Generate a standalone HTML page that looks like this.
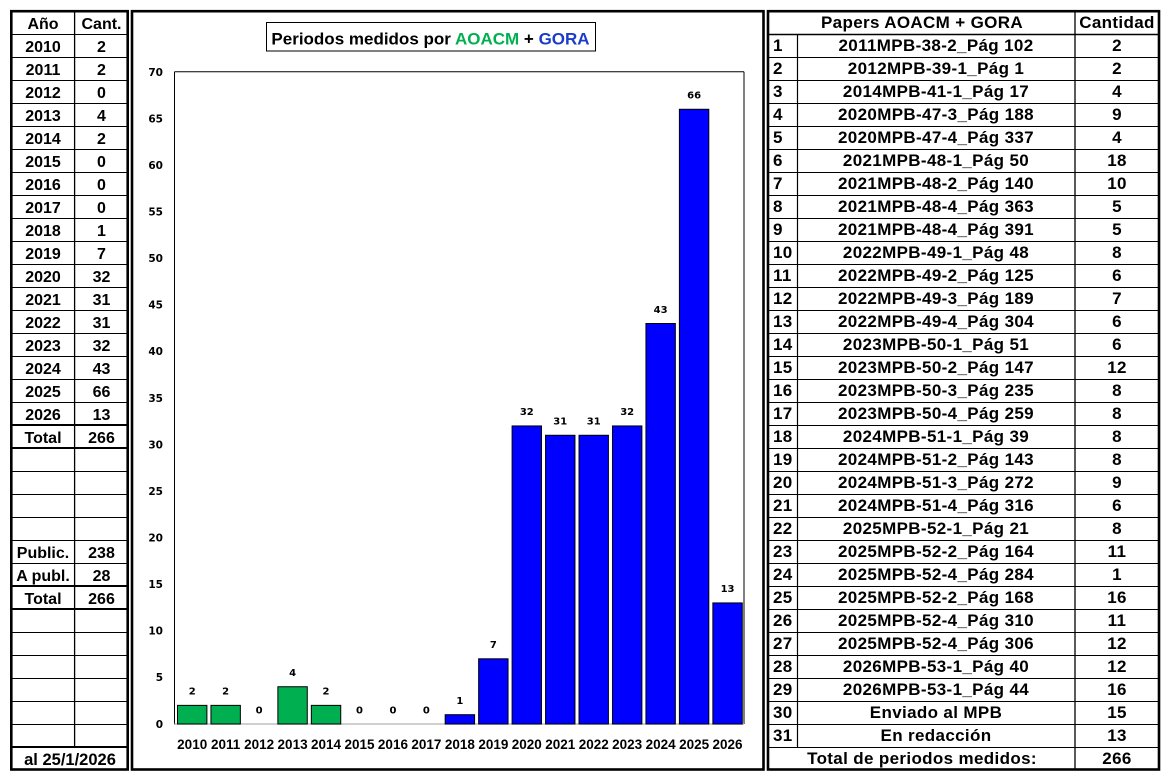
<!DOCTYPE html>
<html><head><meta charset="utf-8"><style>
html,body{margin:0;padding:0;background:#fff;}
svg{display:block;}
.lt{font-family:"Liberation Sans",sans-serif;font-weight:bold;font-size:16px;fill:#000;text-anchor:middle;}
.rt{font-family:"Liberation Sans",sans-serif;font-weight:bold;font-size:17px;letter-spacing:0.35px;fill:#000;text-anchor:middle;}
.rn{font-family:"Liberation Sans",sans-serif;font-weight:bold;font-size:17px;letter-spacing:0.35px;fill:#000;text-anchor:start;}
.yl{font-family:"DejaVu Sans",sans-serif;font-weight:bold;font-size:10.5px;fill:#000;text-anchor:end;}
.vl{font-family:"DejaVu Sans",sans-serif;font-weight:bold;font-size:10px;fill:#000;text-anchor:middle;}
.xl{font-family:"Liberation Sans",sans-serif;font-weight:bold;font-size:13.5px;fill:#000;text-anchor:middle;}
.ti{font-family:"Liberation Sans",sans-serif;font-weight:bold;font-size:17px;fill:#000;text-anchor:middle;}
</style></head><body>
<svg width="1171" height="782" viewBox="0 0 1171 782" xmlns="http://www.w3.org/2000/svg">
<rect x="0" y="0" width="1171" height="782" fill="#fff"/>

<!-- LEFT TABLE -->
<g stroke="#000" stroke-width="1" fill="none">
<line x1="12" y1="34.5" x2="127" y2="34.5"/>
<line x1="12" y1="57.5" x2="127" y2="57.5"/>
<line x1="12" y1="80.5" x2="127" y2="80.5"/>
<line x1="12" y1="103.5" x2="127" y2="103.5"/>
<line x1="12" y1="126.5" x2="127" y2="126.5"/>
<line x1="12" y1="149.5" x2="127" y2="149.5"/>
<line x1="12" y1="172.5" x2="127" y2="172.5"/>
<line x1="12" y1="195.5" x2="127" y2="195.5"/>
<line x1="12" y1="218.5" x2="127" y2="218.5"/>
<line x1="12" y1="241.5" x2="127" y2="241.5"/>
<line x1="12" y1="264.5" x2="127" y2="264.5"/>
<line x1="12" y1="287.5" x2="127" y2="287.5"/>
<line x1="12" y1="310.5" x2="127" y2="310.5"/>
<line x1="12" y1="333.5" x2="127" y2="333.5"/>
<line x1="12" y1="356.5" x2="127" y2="356.5"/>
<line x1="12" y1="379.5" x2="127" y2="379.5"/>
<line x1="12" y1="402.5" x2="127" y2="402.5"/>
<line x1="12" y1="471.5" x2="127" y2="471.5"/>
<line x1="12" y1="494.5" x2="127" y2="494.5"/>
<line x1="12" y1="517.5" x2="127" y2="517.5"/>
<line x1="12" y1="540.5" x2="127" y2="540.5"/>
<line x1="12" y1="563.5" x2="127" y2="563.5"/>
<line x1="12" y1="632.5" x2="127" y2="632.5"/>
<line x1="12" y1="655.5" x2="127" y2="655.5"/>
<line x1="12" y1="678.5" x2="127" y2="678.5"/>
<line x1="12" y1="701.5" x2="127" y2="701.5"/>
<line x1="12" y1="724.5" x2="127" y2="724.5"/>
<line x1="74.6" y1="12" x2="74.6" y2="747" stroke-width="1.3"/>
</g>
<g stroke="#000" stroke-width="2" fill="none">
<line x1="12" y1="425" x2="127" y2="425"/>
<line x1="12" y1="448" x2="127" y2="448"/>
<line x1="12" y1="586" x2="127" y2="586"/>
<line x1="12" y1="609" x2="127" y2="609"/>
<line x1="12" y1="747" x2="127" y2="747"/>
</g>
<rect x="11.3" y="11.2" width="116.4" height="758.3" fill="none" stroke="#000" stroke-width="2.6"/>

<g>
<text class="lt" x="43" y="29">Año</text><text class="lt" x="101.5" y="29">Cant.</text>
<text class="lt" x="43" y="52">2010</text><text class="lt" x="101.5" y="52">2</text>
<text class="lt" x="43" y="75">2011</text><text class="lt" x="101.5" y="75">2</text>
<text class="lt" x="43" y="98">2012</text><text class="lt" x="101.5" y="98">0</text>
<text class="lt" x="43" y="121">2013</text><text class="lt" x="101.5" y="121">4</text>
<text class="lt" x="43" y="144">2014</text><text class="lt" x="101.5" y="144">2</text>
<text class="lt" x="43" y="167">2015</text><text class="lt" x="101.5" y="167">0</text>
<text class="lt" x="43" y="190">2016</text><text class="lt" x="101.5" y="190">0</text>
<text class="lt" x="43" y="213">2017</text><text class="lt" x="101.5" y="213">0</text>
<text class="lt" x="43" y="236">2018</text><text class="lt" x="101.5" y="236">1</text>
<text class="lt" x="43" y="259">2019</text><text class="lt" x="101.5" y="259">7</text>
<text class="lt" x="43" y="282">2020</text><text class="lt" x="101.5" y="282">32</text>
<text class="lt" x="43" y="305">2021</text><text class="lt" x="101.5" y="305">31</text>
<text class="lt" x="43" y="328">2022</text><text class="lt" x="101.5" y="328">31</text>
<text class="lt" x="43" y="351">2023</text><text class="lt" x="101.5" y="351">32</text>
<text class="lt" x="43" y="374">2024</text><text class="lt" x="101.5" y="374">43</text>
<text class="lt" x="43" y="397">2025</text><text class="lt" x="101.5" y="397">66</text>
<text class="lt" x="43" y="420">2026</text><text class="lt" x="101.5" y="420">13</text>
<text class="lt" x="43" y="443">Total</text><text class="lt" x="101.5" y="443">266</text>
<text class="lt" x="43" y="558">Public.</text><text class="lt" x="101.5" y="558">238</text>
<text class="lt" x="43" y="581">A publ.</text><text class="lt" x="101.5" y="581">28</text>
<text class="lt" x="43" y="604">Total</text><text class="lt" x="101.5" y="604">266</text>
<text class="lt" x="70" y="765" style="font-size:16.5px">al 25/1/2026</text>
</g>

<!-- CHART PANEL -->
<rect x="132" y="11.2" width="631.5" height="758.3" fill="none" stroke="#000" stroke-width="2.6"/>
<rect x="266.5" y="22.5" width="329" height="28.5" fill="#fff" stroke="#000" stroke-width="1"/>
<text class="ti" x="430.5" y="44.3">Periodos medidos por <tspan fill="#00B050">AOACM</tspan> + <tspan fill="#1A3CC8">GORA</tspan></text>

<!-- plot area -->
<g fill="none" stroke="#000" stroke-width="1">
<line x1="174.5" y1="71.7" x2="744" y2="71.7"/>
<line x1="744" y1="71.7" x2="744" y2="724"/>
<line x1="174.5" y1="71.7" x2="174.5" y2="724.5"/>
</g>
<line x1="174.5" y1="724" x2="744" y2="724" stroke="#BFBFBF" stroke-width="1.5"/>

<g>
<text class="yl" x="163" y="75.8">70</text>
<text class="yl" x="163" y="122.4">65</text>
<text class="yl" x="163" y="169">60</text>
<text class="yl" x="163" y="215.5">55</text>
<text class="yl" x="163" y="262.1">50</text>
<text class="yl" x="163" y="308.7">45</text>
<text class="yl" x="163" y="355.2">40</text>
<text class="yl" x="163" y="401.8">35</text>
<text class="yl" x="163" y="448.4">30</text>
<text class="yl" x="163" y="495">25</text>
<text class="yl" x="163" y="541.5">20</text>
<text class="yl" x="163" y="588.1">15</text>
<text class="yl" x="163" y="634.7">10</text>
<text class="yl" x="163" y="681.2">5</text>
<text class="yl" x="163" y="727.8">0</text>
</g>

<g stroke="#000" stroke-width="1">
<rect x="177.5" y="705.37" width="29.4" height="18.63" fill="#00B050"/>
<rect x="210.96" y="705.37" width="29.4" height="18.63" fill="#00B050"/>
<rect x="277.88" y="686.74" width="29.4" height="37.26" fill="#00B050"/>
<rect x="311.34" y="705.37" width="29.4" height="18.63" fill="#00B050"/>
<rect x="445.18" y="714.69" width="29.4" height="9.31" fill="#0000FF"/>
<rect x="478.64" y="658.8" width="29.4" height="65.2" fill="#0000FF"/>
<rect x="512.1" y="425.95" width="29.4" height="298.05" fill="#0000FF"/>
<rect x="545.56" y="435.27" width="29.4" height="288.73" fill="#0000FF"/>
<rect x="579.02" y="435.27" width="29.4" height="288.73" fill="#0000FF"/>
<rect x="612.48" y="425.95" width="29.4" height="298.05" fill="#0000FF"/>
<rect x="645.94" y="323.5" width="29.4" height="400.5" fill="#0000FF"/>
<rect x="679.4" y="109.28" width="29.4" height="614.72" fill="#0000FF"/>
<rect x="712.86" y="602.92" width="29.4" height="121.08" fill="#0000FF"/>
</g>

<g>
<text class="vl" x="192.2" y="694.7">2</text>
<text class="vl" x="225.66" y="694.7">2</text>
<text class="vl" x="259.12" y="713.3">0</text>
<text class="vl" x="292.58" y="676">4</text>
<text class="vl" x="326.04" y="694.7">2</text>
<text class="vl" x="359.5" y="713.3">0</text>
<text class="vl" x="392.96" y="713.3">0</text>
<text class="vl" x="426.42" y="713.3">0</text>
<text class="vl" x="459.88" y="704">1</text>
<text class="vl" x="493.34" y="648.1">7</text>
<text class="vl" x="526.8" y="415.2">32</text>
<text class="vl" x="560.26" y="424.6">31</text>
<text class="vl" x="593.72" y="424.6">31</text>
<text class="vl" x="627.18" y="415.2">32</text>
<text class="vl" x="660.64" y="312.8">43</text>
<text class="vl" x="694.1" y="98.6">66</text>
<text class="vl" x="727.56" y="592.2">13</text>
</g>

<g>
<text class="xl" x="192.2" y="748.8">2010</text>
<text class="xl" x="225.66" y="748.8">2011</text>
<text class="xl" x="259.12" y="748.8">2012</text>
<text class="xl" x="292.58" y="748.8">2013</text>
<text class="xl" x="326.04" y="748.8">2014</text>
<text class="xl" x="359.5" y="748.8">2015</text>
<text class="xl" x="392.96" y="748.8">2016</text>
<text class="xl" x="426.42" y="748.8">2017</text>
<text class="xl" x="459.88" y="748.8">2018</text>
<text class="xl" x="493.34" y="748.8">2019</text>
<text class="xl" x="526.8" y="748.8">2020</text>
<text class="xl" x="560.26" y="748.8">2021</text>
<text class="xl" x="593.72" y="748.8">2022</text>
<text class="xl" x="627.18" y="748.8">2023</text>
<text class="xl" x="660.64" y="748.8">2024</text>
<text class="xl" x="694.1" y="748.8">2025</text>
<text class="xl" x="727.56" y="748.8">2026</text>
</g>

<!-- RIGHT TABLE -->
<g stroke="#000" stroke-width="1" fill="none">
<line x1="769" y1="34.5" x2="1158" y2="34.5" stroke-width="1.4"/>
<line x1="769" y1="57.5" x2="1158" y2="57.5"/>
<line x1="769" y1="80.5" x2="1158" y2="80.5"/>
<line x1="769" y1="103.5" x2="1158" y2="103.5"/>
<line x1="769" y1="126.5" x2="1158" y2="126.5"/>
<line x1="769" y1="149.5" x2="1158" y2="149.5"/>
<line x1="769" y1="172.5" x2="1158" y2="172.5"/>
<line x1="769" y1="195.5" x2="1158" y2="195.5"/>
<line x1="769" y1="218.5" x2="1158" y2="218.5"/>
<line x1="769" y1="241.5" x2="1158" y2="241.5"/>
<line x1="769" y1="264.5" x2="1158" y2="264.5"/>
<line x1="769" y1="287.5" x2="1158" y2="287.5"/>
<line x1="769" y1="310.5" x2="1158" y2="310.5"/>
<line x1="769" y1="333.5" x2="1158" y2="333.5"/>
<line x1="769" y1="356.5" x2="1158" y2="356.5"/>
<line x1="769" y1="379.5" x2="1158" y2="379.5"/>
<line x1="769" y1="402.5" x2="1158" y2="402.5"/>
<line x1="769" y1="425.5" x2="1158" y2="425.5"/>
<line x1="769" y1="448.5" x2="1158" y2="448.5"/>
<line x1="769" y1="471.5" x2="1158" y2="471.5"/>
<line x1="769" y1="494.5" x2="1158" y2="494.5"/>
<line x1="769" y1="517.5" x2="1158" y2="517.5"/>
<line x1="769" y1="540.5" x2="1158" y2="540.5"/>
<line x1="769" y1="563.5" x2="1158" y2="563.5"/>
<line x1="769" y1="586.5" x2="1158" y2="586.5"/>
<line x1="769" y1="609.5" x2="1158" y2="609.5"/>
<line x1="769" y1="632.5" x2="1158" y2="632.5"/>
<line x1="769" y1="655.5" x2="1158" y2="655.5"/>
<line x1="769" y1="678.5" x2="1158" y2="678.5"/>
<line x1="769" y1="701.5" x2="1158" y2="701.5"/>
<line x1="769" y1="724.5" x2="1158" y2="724.5"/>
<line x1="769" y1="747.5" x2="1158" y2="747.5"/>
<line x1="797.5" y1="34" x2="797.5" y2="747.5" stroke-width="1.2"/>
<line x1="1075" y1="12" x2="1075" y2="769" stroke-width="1.3"/>
</g>
<rect x="768" y="11.2" width="391" height="758.3" fill="none" stroke="#000" stroke-width="2.6"/>

<g>
<text class="rt" x="922" y="28">Papers AOACM + GORA</text><text class="rt" x="1117" y="28">Cantidad</text>
<text class="rn" x="773" y="51">1</text><text class="rt" x="936" y="51">2011MPB-38-2_Pág 102</text><text class="rt" x="1117" y="51">2</text>
<text class="rn" x="773" y="74">2</text><text class="rt" x="936" y="74">2012MPB-39-1_Pág 1</text><text class="rt" x="1117" y="74">2</text>
<text class="rn" x="773" y="97">3</text><text class="rt" x="936" y="97">2014MPB-41-1_Pág 17</text><text class="rt" x="1117" y="97">4</text>
<text class="rn" x="773" y="120">4</text><text class="rt" x="936" y="120">2020MPB-47-3_Pág 188</text><text class="rt" x="1117" y="120">9</text>
<text class="rn" x="773" y="143">5</text><text class="rt" x="936" y="143">2020MPB-47-4_Pág 337</text><text class="rt" x="1117" y="143">4</text>
<text class="rn" x="773" y="166">6</text><text class="rt" x="936" y="166">2021MPB-48-1_Pág 50</text><text class="rt" x="1117" y="166">18</text>
<text class="rn" x="773" y="189">7</text><text class="rt" x="936" y="189">2021MPB-48-2_Pág 140</text><text class="rt" x="1117" y="189">10</text>
<text class="rn" x="773" y="212">8</text><text class="rt" x="936" y="212">2021MPB-48-4_Pág 363</text><text class="rt" x="1117" y="212">5</text>
<text class="rn" x="773" y="235">9</text><text class="rt" x="936" y="235">2021MPB-48-4_Pág 391</text><text class="rt" x="1117" y="235">5</text>
<text class="rn" x="773" y="258">10</text><text class="rt" x="936" y="258">2022MPB-49-1_Pág 48</text><text class="rt" x="1117" y="258">8</text>
<text class="rn" x="773" y="281">11</text><text class="rt" x="936" y="281">2022MPB-49-2_Pág 125</text><text class="rt" x="1117" y="281">6</text>
<text class="rn" x="773" y="304">12</text><text class="rt" x="936" y="304">2022MPB-49-3_Pág 189</text><text class="rt" x="1117" y="304">7</text>
<text class="rn" x="773" y="327">13</text><text class="rt" x="936" y="327">2022MPB-49-4_Pág 304</text><text class="rt" x="1117" y="327">6</text>
<text class="rn" x="773" y="350">14</text><text class="rt" x="936" y="350">2023MPB-50-1_Pág 51</text><text class="rt" x="1117" y="350">6</text>
<text class="rn" x="773" y="373">15</text><text class="rt" x="936" y="373">2023MPB-50-2_Pág 147</text><text class="rt" x="1117" y="373">12</text>
<text class="rn" x="773" y="396">16</text><text class="rt" x="936" y="396">2023MPB-50-3_Pág 235</text><text class="rt" x="1117" y="396">8</text>
<text class="rn" x="773" y="419">17</text><text class="rt" x="936" y="419">2023MPB-50-4_Pág 259</text><text class="rt" x="1117" y="419">8</text>
<text class="rn" x="773" y="442">18</text><text class="rt" x="936" y="442">2024MPB-51-1_Pág 39</text><text class="rt" x="1117" y="442">8</text>
<text class="rn" x="773" y="465">19</text><text class="rt" x="936" y="465">2024MPB-51-2_Pág 143</text><text class="rt" x="1117" y="465">8</text>
<text class="rn" x="773" y="488">20</text><text class="rt" x="936" y="488">2024MPB-51-3_Pág 272</text><text class="rt" x="1117" y="488">9</text>
<text class="rn" x="773" y="511">21</text><text class="rt" x="936" y="511">2024MPB-51-4_Pág 316</text><text class="rt" x="1117" y="511">6</text>
<text class="rn" x="773" y="534">22</text><text class="rt" x="936" y="534">2025MPB-52-1_Pág 21</text><text class="rt" x="1117" y="534">8</text>
<text class="rn" x="773" y="557">23</text><text class="rt" x="936" y="557">2025MPB-52-2_Pág 164</text><text class="rt" x="1117" y="557">11</text>
<text class="rn" x="773" y="580">24</text><text class="rt" x="936" y="580">2025MPB-52-4_Pág 284</text><text class="rt" x="1117" y="580">1</text>
<text class="rn" x="773" y="603">25</text><text class="rt" x="936" y="603">2025MPB-52-2_Pág 168</text><text class="rt" x="1117" y="603">16</text>
<text class="rn" x="773" y="626">26</text><text class="rt" x="936" y="626">2025MPB-52-4_Pág 310</text><text class="rt" x="1117" y="626">11</text>
<text class="rn" x="773" y="649">27</text><text class="rt" x="936" y="649">2025MPB-52-4_Pág 306</text><text class="rt" x="1117" y="649">12</text>
<text class="rn" x="773" y="672">28</text><text class="rt" x="936" y="672">2026MPB-53-1_Pág 40</text><text class="rt" x="1117" y="672">12</text>
<text class="rn" x="773" y="695">29</text><text class="rt" x="936" y="695">2026MPB-53-1_Pág 44</text><text class="rt" x="1117" y="695">16</text>
<text class="rn" x="773" y="718">30</text><text class="rt" x="936" y="718">Enviado al MPB</text><text class="rt" x="1117" y="718">15</text>
<text class="rn" x="773" y="741">31</text><text class="rt" x="936" y="741">En redacción</text><text class="rt" x="1117" y="741">13</text>
<text class="rt" x="922" y="764">Total de periodos medidos:</text><text class="rt" x="1117" y="764">266</text>
</g>
</svg>
</body></html>
